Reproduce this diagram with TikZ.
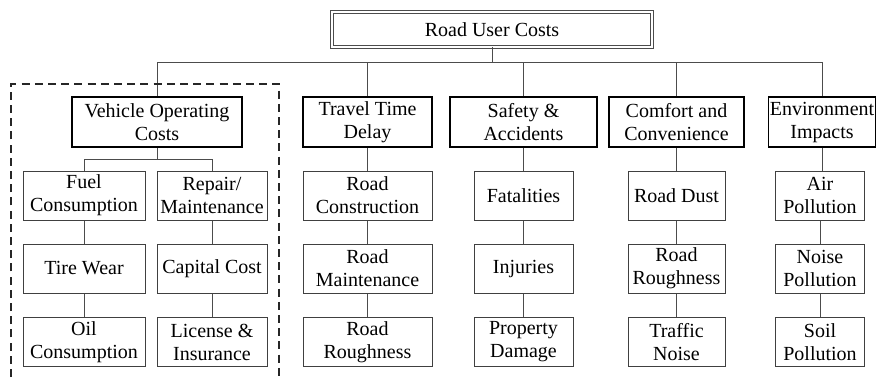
\documentclass[tikz,border=0pt]{standalone}
\usepackage{fontspec}
\setmainfont{Liberation Serif}
\usepackage{tikz}
\usetikzlibrary{calc}

\begin{document}
\begin{tikzpicture}[x=0.5pt,y=-0.5pt,
  every node/.style={font=\fontsize{10}{11.5}\selectfont,align=center,inner sep=0pt},
  rootbox/.style={draw=black!70,double,double distance=0.7pt,line width=0.45pt,minimum width=160pt,minimum height=17.5pt},
  headbox/.style={draw=black,line width=0.9pt,minimum height=25pt},
  itembox/.style={draw=black!75,line width=0.5pt,minimum height=24.5pt},
  link/.style={draw=black!70,line width=0.5pt},
  groupline/.style={draw=black!85,line width=0.6pt,dash pattern=on 4pt off 2.6pt}]
  \useasboundingbox (0,0) rectangle (877,377);
  % top
  \node[rootbox] (root) at (492,29.5) {Road User Costs};
  \coordinate (bus) at (0,62);
  % heads
  \node[headbox,minimum width=85pt]   (voc)  at (157,122)   {Vehicle Operating\\Costs};
  \node[headbox,minimum width=64.5pt] (ttd)  at (367.5,122) {Travel Time\\Delay};
  \node[headbox,minimum width=73.5pt] (saf)  at (523.5,122) {Safety \&\\Accidents};
  \node[headbox,minimum width=67.5pt] (cmf)  at (676.5,122) {Comfort and\\Convenience};
  \node[headbox,minimum width=53.5pt] (env)  at (822,122)   {Environment\\Impacts};
  % vehicle operating costs
  \node[itembox,minimum width=61pt] (fuel)   at (84,195.5)  {Fuel\\Consumption};
  \node[itembox,minimum width=61pt] (tire)   at (84,268.5)  {Tire Wear};
  \node[itembox,minimum width=61pt] (oil)    at (84,342)    {Oil\\Consumption};
  \node[itembox,minimum width=55pt] (repair) at (212,195.5) {Repair/\\Maintenance};
  \node[itembox,minimum width=55pt] (capital) at (212,268.5) {Capital Cost};
  \node[itembox,minimum width=55pt] (license) at (212,342)  {License \&\\Insurance};
  % travel time
  \node[itembox,minimum width=64.5pt] (rcons)  at (367.5,195.5) {Road\\Construction};
  \node[itembox,minimum width=64.5pt] (rmaint) at (367.5,268.5) {Road\\Maintenance};
  \node[itembox,minimum width=64.5pt] (rrough) at (367.5,342)   {Road\\Roughness};
  % safety
  \node[itembox,minimum width=49.5pt] (fatal)  at (523.5,195.5) {Fatalities};
  \node[itembox,minimum width=49.5pt] (injur)  at (523.5,268.5) {Injuries};
  \node[itembox,minimum width=49.5pt] (prop)   at (523.5,342)   {Property\\Damage};
  % comfort
  \node[itembox,minimum width=48.5pt] (dust)   at (676.5,195.5) {Road Dust};
  \node[itembox,minimum width=48.5pt] (crough) at (676.5,268.5) {Road\\Roughness};
  \node[itembox,minimum width=48.5pt] (noise)  at (676.5,342)   {Traffic\\Noise};
  % environment
  \node[itembox,minimum width=44.5pt] (air)    at (820,195.5) {Air\\Pollution};
  \node[itembox,minimum width=44.5pt] (npoll)  at (820,268.5) {Noise\\Pollution};
  \node[itembox,minimum width=44.5pt] (soil)   at (820,342)   {Soil\\Pollution};

  % connectors
  \draw[link] (root.south) -- (root.south |- bus);
  \draw[link] (voc.north |- bus) -- (env.north |- bus);
  \foreach \h in {voc,ttd,saf,cmf,env}
    \draw[link] (\h.north) -- (\h.north |- bus);
  \coordinate (split) at (157,159);
  \draw[link] (voc.south) -- (split);
  \draw[link] (fuel.north) |- (split) -| (repair.north);
  \draw[link] (fuel) -- (tire);   \draw[link] (tire) -- (oil);
  \draw[link] (repair) -- (capital); \draw[link] (capital) -- (license);
  \draw[link] (ttd) -- (rcons);  \draw[link] (rcons) -- (rmaint);  \draw[link] (rmaint) -- (rrough);
  \draw[link] (saf) -- (fatal);  \draw[link] (fatal) -- (injur);   \draw[link] (injur) -- (prop);
  \draw[link] (cmf) -- (dust);   \draw[link] (dust) -- (crough);   \draw[link] (crough) -- (noise);
  \draw[link] (env.south) -- (env.south |- air.north);
  \draw[link] (air) -- (npoll);  \draw[link] (npoll) -- (soil);

  % dashed group round the vehicle costs
  \draw[groupline] (11,377) |- (279,84) -- (279,377);
\end{tikzpicture}
\end{document}
